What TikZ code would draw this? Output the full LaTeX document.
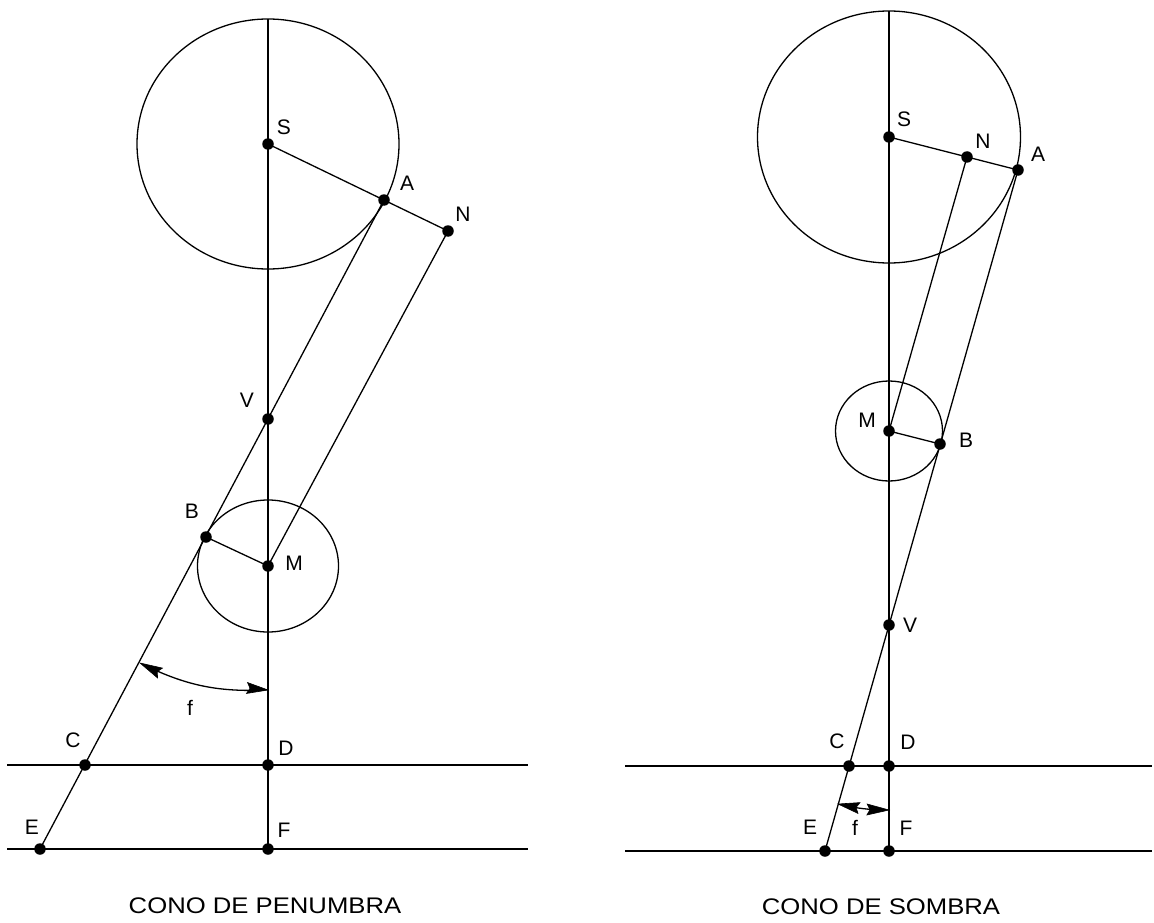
\documentclass[tikz,border=0pt]{standalone}
\usepackage{fontspec}
\setmainfont{Liberation Sans}
\usetikzlibrary{calc}
\begin{document}
\begin{tikzpicture}[x=1pt,y=-1pt,
  ln/.style={line width=1.3pt,black},
  dot/.style={circle,fill=black,inner sep=0pt,minimum size=11.5pt},
  lbl/.style={font=\fontsize{21}{23}\selectfont,inner sep=0pt},
  ttl/.style={font=\fontsize{24}{26}\selectfont,inner sep=0pt},
  head/.style={fill=black,draw=black,line width=0.6pt,line join=miter}]
\newcommand{\arrowhead}[2]{% #1 = tip, #2 = point on the shaft behind the tip
  \fill[head] (#1) -- ($(#2)!5.5pt!90:(#1)$) -- ($(#2)!3pt!(#1)$) -- ($(#2)!5.5pt!-90:(#1)$) -- cycle;}
\useasboundingbox (0,0) rectangle (1154,923);
% ---------- left: cono de penumbra ----------
\coordinate (LS) at (268,144);
\coordinate (LA) at (384,200);
\coordinate (LN) at (448,231);
\coordinate (LV) at (268,419);
\coordinate (LB) at (206,537);
\coordinate (LM) at (268,566);
\coordinate (LC) at (85,765);
\coordinate (LD) at (268,765);
\coordinate (LE) at (40,849);
\coordinate (LF) at (268,849);
\coordinate (LT) at (268,19);
\coordinate (LH1a) at (7,765);  \coordinate (LH1b) at (528,765);
\coordinate (LH2a) at (7,849);  \coordinate (LH2b) at (528,849);
\coordinate (LP1) at (140,663);
\coordinate (LP2) at (268,690);
\coordinate (LQ1) at (160,673);
\coordinate (LQ2) at (247,688);
\draw[ln] (LS) ellipse [x radius=131, y radius=125];
\draw[ln] (LM) ellipse [x radius=70.5, y radius=66];
\draw[ln] (LT) -- (LF);
\draw[ln] (LS) -- (LN);
\draw[ln] (LA) -- (LE);
\draw[ln] (LN) -- (LM);
\draw[ln] (LB) -- (LM);
\draw[ln] (LH1a) -- (LH1b);
\draw[ln] (LH2a) -- (LH2b);
\draw[ln,shorten <=4pt,shorten >=4pt] (LP1) to[bend right=14] (LP2);
\arrowhead{LP1}{LQ1}
\arrowhead{LP2}{LQ2}
\foreach \p in {LS,LA,LN,LV,LB,LM,LC,LD,LE,LF} \node[dot] at (\p) {};
\node[lbl] (lS) at (284,127) {S};
\node[lbl] (lA) at (407,183) {A};
\node[lbl] (lN) at (463,214) {N};
\node[lbl] (lV) at (247,400) {V};
\node[lbl] (lB) at (192,511) {B};
\node[lbl] (lM) at (294,563) {M};
\node[lbl] (lf) at (190,708) {f};
\node[lbl] (lC) at (73,740) {C};
\node[lbl] (lD) at (286,748) {D};
\node[lbl] (lE) at (32,827) {E};
\node[lbl] (lF) at (284,830) {F};
\node[ttl] (lt) at (265,906) {\scalebox{1.07}[0.94]{CONO DE PENUMBRA}};
% ---------- right: cono de sombra ----------
\coordinate (RS) at (889,137);
\coordinate (RN) at (967,157);
\coordinate (RA) at (1018,170);
\coordinate (RM) at (889,431);
\coordinate (RB) at (940,444);
\coordinate (RV) at (889,625);
\coordinate (RC) at (849,766);
\coordinate (RD) at (889,766);
\coordinate (RE) at (825,851);
\coordinate (RF) at (889,851);
\coordinate (RT) at (889,11);
\coordinate (RH1a) at (625,766); \coordinate (RH1b) at (1152,766);
\coordinate (RH2a) at (625,851); \coordinate (RH2b) at (1152,851);
\coordinate (RP1) at (838,804);
\coordinate (RP2) at (889,810);
\coordinate (RQ1) at (859,808);
\coordinate (RQ2) at (867,809.5);
\draw[ln] (RS) ellipse [x radius=131.5, y radius=126];
\draw[ln] (RM) ellipse [x radius=53.5, y radius=50];
\draw[ln] (RT) -- (RF);
\draw[ln] (RS) -- (RA);
\draw[ln] (RA) -- (RE);
\draw[ln] (RN) -- (RM);
\draw[ln] (RM) -- (RB);
\draw[ln] (RH1a) -- (RH1b);
\draw[ln] (RH2a) -- (RH2b);
\draw[ln,shorten <=4pt,shorten >=4pt] (RP1) to[bend right=6] (RP2);
\arrowhead{RP1}{RQ1}
\arrowhead{RP2}{RQ2}
\foreach \p in {RS,RN,RA,RM,RB,RV,RC,RD,RE,RF} \node[dot] at (\p) {};
\node[lbl] (rS) at (904,119) {S};
\node[lbl] (rN) at (983,141) {N};
\node[lbl] (rA) at (1038,154) {A};
\node[lbl] (rM) at (867,420) {M};
\node[lbl] (rB) at (966,440) {B};
\node[lbl] (rV) at (910,625) {V};
\node[lbl] (rC) at (837,741) {C};
\node[lbl] (rD) at (908,742) {D};
\node[lbl] (rE) at (810,827) {E};
\node[lbl] (rF) at (906,828) {F};
\node[lbl] (rf) at (855,828) {f};
\node[ttl] (rt) at (881,907) {\scalebox{1.07}[0.94]{CONO DE SOMBRA}};
\end{tikzpicture}
\end{document}
